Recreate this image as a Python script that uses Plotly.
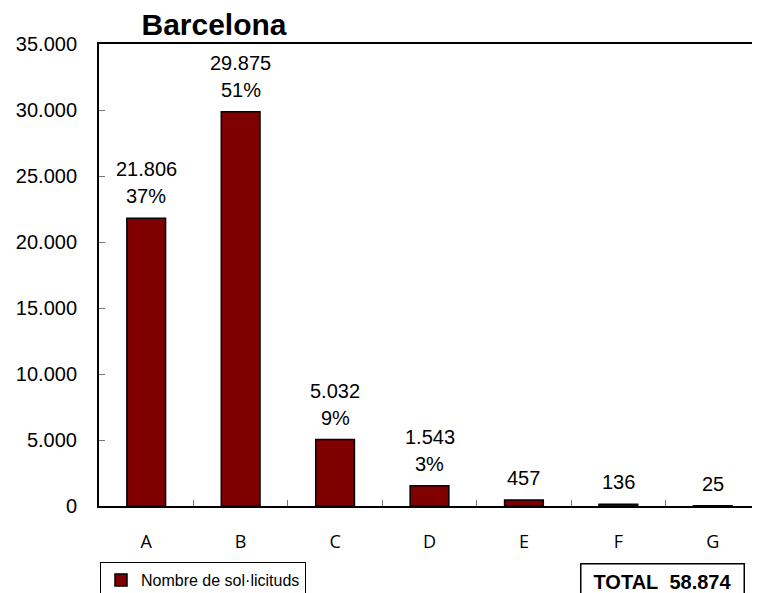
import plotly.graph_objects as go

categories = ["A", "B", "C", "D", "E", "F", "G"]
values = [21806, 29875, 5032, 1543, 457, 136, 25]
percent_labels = ["37%", "51%", "9%", "3%", "", "", ""]
total_value = 58874
y_ticks = [0, 5000, 10000, 15000, 20000, 25000, 30000, 35000]
series_name = "Nombre de sol·licituds"
title_text = "Barcelona"

# the page body has an 8px default margin, so the figure is drawn 8px in
W, H = 752, 585


def fmt(v):
    return f"{v:,}".replace(",", ".")


fig = go.Figure()
fig.add_trace(go.Bar(
    x=categories, y=values, name=series_name,
    marker=dict(color="#800000", line=dict(color="black", width=1.5)),
    width=0.41, showlegend=True,
))

label_font = dict(family="Arial", size=20, color="black")
annotations = []
for c, v, p in zip(categories, values, percent_labels):
    if p:
        annotations.append(dict(x=c, y=v, xref="x", yref="y", text=p, showarrow=False,
                                yanchor="middle", yshift=22, font=label_font))
        annotations.append(dict(x=c, y=v, xref="x", yref="y", text=fmt(v), showarrow=False,
                                yanchor="middle", yshift=49, font=label_font))
    else:
        annotations.append(dict(x=c, y=v, xref="x", yref="y", text=fmt(v), showarrow=False,
                                yanchor="middle", yshift=22, font=label_font))

annotations.append(dict(
    x=0.852, y=-0.164, xref="paper", yref="paper",
    text="<b>TOTAL&nbsp;&nbsp;" + fmt(total_value) + "</b>",
    showarrow=False, xanchor="center", yanchor="middle",
    font=dict(family="Arial", size=20, color="black"),
    bordercolor="black", borderwidth=1.5, borderpad=6, width=150, bgcolor="white",
))

fig.update_layout(
    width=W, height=H,
    margin=dict(l=91, r=0, t=36, b=87, autoexpand=False),
    paper_bgcolor="white", plot_bgcolor="white",
    separators=",.",
    title=dict(text="<b>" + title_text + "</b>", xref="paper", x=0.174, xanchor="center",
               yref="container", y=1 - 16 / H, yanchor="middle",
               font=dict(family="Arial", size=30, color="black")),
    showlegend=True,
    legend=dict(xref="container", yref="container", x=92 / W, y=1 - 554 / H,
                xanchor="left", yanchor="top",
                bordercolor="black", borderwidth=1, bgcolor="white",
                itemwidth=30,
                font=dict(family="Arial", size=16, color="black")),
    annotations=annotations,
    bargap=0.59,
)
fig.update_xaxes(
    type="category", showline=True, linecolor="black", linewidth=2, mirror=True,
    ticks="inside", tickson="boundaries", ticklen=6, tickcolor="#777", tickwidth=1,
    tickfont=dict(family="Open Sans", size=18, color="black"),
    ticklabelstandoff=18, showgrid=False, zeroline=False,
)
fig.update_yaxes(
    range=[0, 35000], tickvals=y_ticks, tickformat=",d",
    showline=True, linecolor="black", linewidth=2, mirror=False,
    ticks="inside", ticklen=6, tickcolor="#777", tickwidth=1,
    tickfont=dict(family="Arial", size=20, color="black"),
    ticklabelstandoff=16, showgrid=False, zeroline=False,
)

fig.write_html("out.html")
